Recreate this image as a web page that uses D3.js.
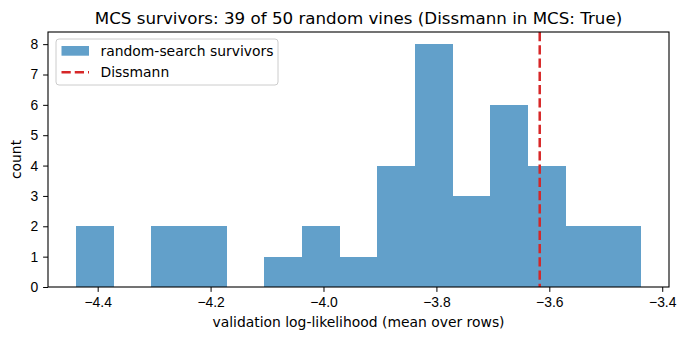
<!DOCTYPE html>
<html>
<head>
<meta charset="utf-8">
<script src="https://cdn.jsdelivr.net/npm/d3@7"></script>
<style>
  body { margin: 0; background: #fff; }
  svg { font-family: "DejaVu Sans", sans-serif; }
  .tick text { font-size: 13.9px; fill: #000; }
  .tick line { stroke: #000; }
</style>
</head>
<body>
<div id="chart"></div>
<script>
// Histogram bins
const binEdges = [-4.438, -4.371, -4.305, -4.238, -4.171, -4.105, -4.038, -3.971,
                  -3.905, -3.838, -3.771, -3.705, -3.638, -3.571, -3.505, -3.438];
const binCounts = [2, 0, 2, 2, 0, 1, 2, 1, 4, 8, 3, 6, 4, 2, 2];
const dissmannValue = -3.617;
const xTicks = [-4.4, -4.2, -4.0, -3.8, -3.6, -3.4];
const yTicks = [0, 1, 2, 3, 4, 5, 6, 7, 8];

const W = 689, H = 340;
const margin = {top: 32, right: 20, bottom: 53, left: 48},
      width = W - margin.left - margin.right,
      height = H - margin.top - margin.bottom;

const svg = d3.select("#chart")
  .append("svg")
    .attr("width", W)
    .attr("height", H);

const g = svg.append("g")
    .attr("transform", `translate(${margin.left},${margin.top})`);

const bins = binCounts.map((c, i) => ({x0: binEdges[i], x1: binEdges[i + 1], count: c}));

// matplotlib-style 5% margins
const xMin = binEdges[0], xMax = binEdges[binEdges.length - 1];
const pad = (xMax - xMin) * 0.05;
const x = d3.scaleLinear()
  .domain([xMin - pad, xMax + pad])
  .range([0, width]);

const yMax = d3.max(binCounts);
const y = d3.scaleLinear()
  .domain([0, yMax * 1.05])
  .range([height, 0]);

// Bars (crisp edges so neighbouring bars don't show seams)
g.append("g")
  .attr("fill", "#62a0ca")
  .attr("shape-rendering", "crispEdges")
  .selectAll(".bar")
  .data(bins)
  .join("rect")
    .attr("class", "bar")
    .attr("x", d => x(d.x0))
    .attr("y", d => y(d.count))
    .attr("width", d => x(d.x1) - x(d.x0))
    .attr("height", d => y(0) - y(d.count));

// Dissmann line
g.append("line")
  .attr("x1", x(dissmannValue))
  .attr("x2", x(dissmannValue))
  .attr("y1", 0)
  .attr("y2", height)
  .attr("stroke", "#d62728")
  .attr("stroke-width", 2.5)
  .attr("stroke-dasharray", "9.25,4");

// Axes
const fmt = d => d < 0 ? "\u2212" + Math.abs(d).toFixed(1) : d.toFixed(1);
g.append("g")
  .attr("transform", `translate(0,${height})`)
  .call(d3.axisBottom(x).tickValues(xTicks).tickFormat(fmt).tickSizeOuter(0).tickSize(4.9).tickPadding(4.9))
  .call(a => a.select(".domain").remove());

g.append("g")
  .call(d3.axisLeft(y).tickValues(yTicks).tickFormat(d3.format("d")).tickSizeOuter(0).tickSize(4.9).tickPadding(4.9))
  .call(a => a.select(".domain").remove());

// Frame
g.append("rect")
  .attr("width", width)
  .attr("height", height)
  .attr("fill", "none")
  .attr("stroke", "#000")
  .attr("stroke-width", 1.1);

// Legend
const leg = g.append("g").attr("transform", "translate(8,7)");
leg.append("rect")
  .attr("width", 222)
  .attr("height", 46)
  .attr("rx", 3)
  .attr("fill", "#fff")
  .attr("fill-opacity", 0.8)
  .attr("stroke", "#ccc");
leg.append("rect")
  .attr("x", 5.5).attr("y", 7)
  .attr("width", 27.5).attr("height", 9.7)
  .attr("fill", "#62a0ca");
leg.append("text")
  .attr("x", 44.5).attr("y", 17)
  .style("font-size", "13.9px")
  .text("random-search survivors");
leg.append("line")
  .attr("x1", 5.5).attr("x2", 33)
  .attr("y1", 33.3).attr("y2", 33.3)
  .attr("stroke", "#d62728")
  .attr("stroke-width", 2.5)
  .attr("stroke-dasharray", "9.25,4");
leg.append("text")
  .attr("x", 44.5).attr("y", 38)
  .style("font-size", "13.9px")
  .text("Dissmann");

// Title
svg.append("text")
  .attr("x", margin.left + width / 2)
  .attr("y", 24)
  .attr("text-anchor", "middle")
  .style("font-size", "16.7px")
  .text("MCS survivors: 39 of 50 random vines (Dissmann in MCS: True)");

// X axis label
svg.append("text")
  .attr("x", margin.left + width / 2)
  .attr("y", 327)
  .attr("text-anchor", "middle")
  .style("font-size", "13.9px")
  .text("validation log-likelihood (mean over rows)");

// Y axis label
svg.append("text")
  .attr("transform", "rotate(-90)")
  .attr("x", -(margin.top + height / 2))
  .attr("y", 21)
  .attr("text-anchor", "middle")
  .style("font-size", "13.9px")
  .text("count");
</script>
</body>
</html>
